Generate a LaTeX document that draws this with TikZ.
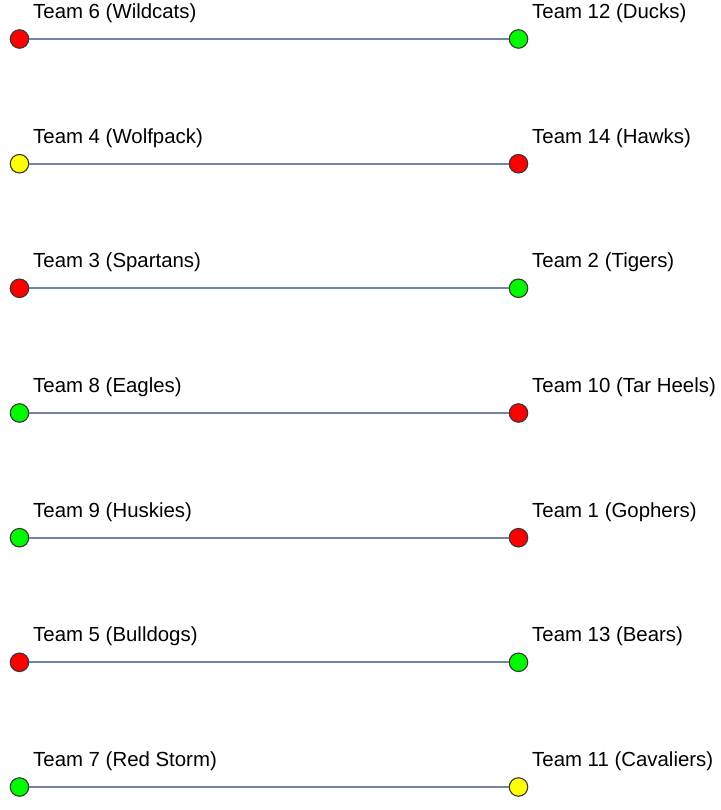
\documentclass[tikz,border=0pt]{standalone}
\usepackage{fontspec}
\setmainfont{Liberation Sans}
\definecolor{teamred}{RGB}{255, 0, 0}
\definecolor{teamgreen}{RGB}{0, 250, 0}
\definecolor{teamyellow}{RGB}{255, 255, 0}
\definecolor{linkblue}{RGB}{112, 132, 170}
\definecolor{rimgray}{RGB}{55, 55, 55}
\usetikzlibrary{calc, positioning}

\begin{document}
\begin{tikzpicture}[x=1pt, y=1pt,
  team/.style={circle, draw=rimgray, fill=#1, line width=1.1pt, minimum size=18.5pt, inner sep=0pt},
  teamname/.style={anchor=base west, inner sep=0pt, font=\fontsize{20.4}{24}\selectfont},
  link/.style={draw=linkblue, line width=1.7pt},
]
  \useasboundingbox (0,0) rectangle (720,-810);
  % pairings, left column
  \node[team=teamred]    (l1) at (19.5, -39) {};
  \node[team=teamyellow] (l2) at (19.5, -163.7) {};
  \node[team=teamred]    (l3) at (19.5, -288.3) {};
  \node[team=teamgreen]  (l4) at (19.5, -413) {};
  \node[team=teamgreen]  (l5) at (19.5, -537.7) {};
  \node[team=teamred]    (l6) at (19.5, -662.3) {};
  \node[team=teamgreen]  (l7) at (19.5, -787) {};
  % right column
  \node[team=teamgreen]  (r1) at (518.5, -39) {};
  \node[team=teamred]    (r2) at (518.5, -163.7) {};
  \node[team=teamgreen]  (r3) at (518.5, -288.3) {};
  \node[team=teamred]    (r4) at (518.5, -413) {};
  \node[team=teamred]    (r5) at (518.5, -537.7) {};
  \node[team=teamgreen]  (r6) at (518.5, -662.3) {};
  \node[team=teamyellow] (r7) at (518.5, -787) {};
  % names
  \node[teamname] (l1name) at ($(l1)+(13.5,20.5)$) {Team 6 (Wildcats)};
  \node[teamname] (l2name) at ($(l2)+(13.5,20.5)$) {Team 4 (Wolfpack)};
  \node[teamname] (l3name) at ($(l3)+(13.5,20.5)$) {Team 3 (Spartans)};
  \node[teamname] (l4name) at ($(l4)+(13.5,20.5)$) {Team 8 (Eagles)};
  \node[teamname] (l5name) at ($(l5)+(13.5,20.5)$) {Team 9 (Huskies)};
  \node[teamname] (l6name) at ($(l6)+(13.5,20.5)$) {Team 5 (Bulldogs)};
  \node[teamname] (l7name) at ($(l7)+(13.5,20.5)$) {Team 7 (Red Storm)};
  \node[teamname] (r1name) at ($(r1)+(13.5,20.5)$) {Team 12 (Ducks)};
  \node[teamname] (r2name) at ($(r2)+(13.5,20.5)$) {Team 14 (Hawks)};
  \node[teamname] (r3name) at ($(r3)+(13.5,20.5)$) {Team 2 (Tigers)};
  \node[teamname] (r4name) at ($(r4)+(13.5,20.5)$) {Team 10 (Tar Heels)};
  \node[teamname] (r5name) at ($(r5)+(13.5,20.5)$) {Team 1 (Gophers)};
  \node[teamname] (r6name) at ($(r6)+(13.5,20.5)$) {Team 13 (Bears)};
  \node[teamname] (r7name) at ($(r7)+(13.5,20.5)$) {Team 11 (Cavaliers)};
  \draw[link] (l1) -- (r1);
  \draw[link] (l2) -- (r2);
  \draw[link] (l3) -- (r3);
  \draw[link] (l4) -- (r4);
  \draw[link] (l5) -- (r5);
  \draw[link] (l6) -- (r6);
  \draw[link] (l7) -- (r7);
\end{tikzpicture}
\end{document}
